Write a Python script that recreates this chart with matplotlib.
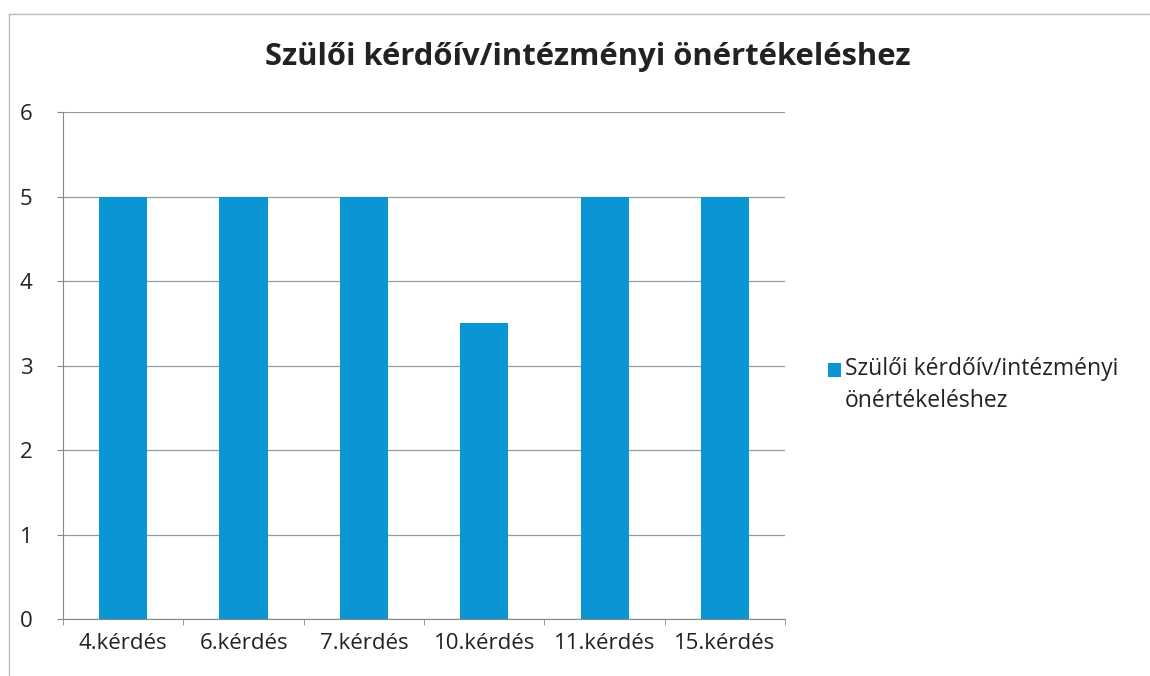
import matplotlib
matplotlib.use('Agg')
import matplotlib.pyplot as plt
from matplotlib.patches import Rectangle
from matplotlib.container import BarContainer
from matplotlib.legend_handler import HandlerPatch, update_from_first_child
import numpy as np

# adatok
categories = ['4.kérdés', '6.kérdés', '7.kérdés', '10.kérdés', '11.kérdés', '15.kérdés']
values = [5, 5, 5, 3.5, 5, 5]
series_name = 'Szülői kérdőív/intézményi\nönértékeléshez'
title = 'Szülői kérdőív/intézményi önértékeléshez'

plt.rcParams['font.family'] = ['Open Sans', 'DejaVu Sans']

fig = plt.figure(figsize=(11.5, 6.76), dpi=100)
ax = fig.add_axes([0.0548, 0.0843, 0.628, 0.75])

x = np.arange(len(categories))
ax.bar(x, values, width=0.4, color='#0a96d4', label=series_name, zorder=3)

ax.set_xlim(-0.5, len(categories) - 0.5)
ax.set_ylim(0, 6)
ax.set_yticks(range(0, 7))
ax.set_xticks(x)
ax.set_xticklabels(categories)
ax.set_xticks(np.arange(-0.5, len(categories)), minor=True)
ax.tick_params(axis='x', which='major', length=0, labelsize=16, pad=10, colors='#222222')
ax.tick_params(axis='x', which='minor', length=4, color='#888888')
ax.tick_params(axis='y', length=4, labelsize=16, pad=18, colors='#222222', color='#888888')
ax.yaxis.grid(True, color='#999999', linewidth=0.9, zorder=0)

for s in ['top', 'right']:
    ax.spines[s].set_visible(False)
ax.spines['left'].set_color('#888888')
ax.spines['bottom'].set_color('#888888')

fig.text(0.511, 0.916, title, ha='center', va='center', fontsize=22.3, fontweight='bold', color='#222222')


# jelmagyarázat négyzete az első sorhoz igazítva
def top_square(legend, orig_handle, xdescent, ydescent, width, height, fontsize):
    return Rectangle((-xdescent, -ydescent + 11.5), width, height)


leg = fig.legend(loc='center left', bbox_to_anchor=(0.702, 0.43), frameon=False,
                 fontsize=16.5, handlelength=0.57, handleheight=0.57, handletextpad=0.18,
                 handler_map={BarContainer: HandlerPatch(patch_func=top_square,
                                                         update_func=update_from_first_child)})
for t in leg.get_texts():
    t.set_linespacing(1.45)
    t.set_color('#222222')

# keret
fig.add_artist(plt.Line2D([0.008, 1.0], [0.979, 0.979], color='#bbbbbb', linewidth=1, transform=fig.transFigure))
fig.add_artist(plt.Line2D([0.008, 0.008], [0.0, 0.979], color='#bbbbbb', linewidth=1, transform=fig.transFigure))

fig.savefig('out.png', dpi=100)
